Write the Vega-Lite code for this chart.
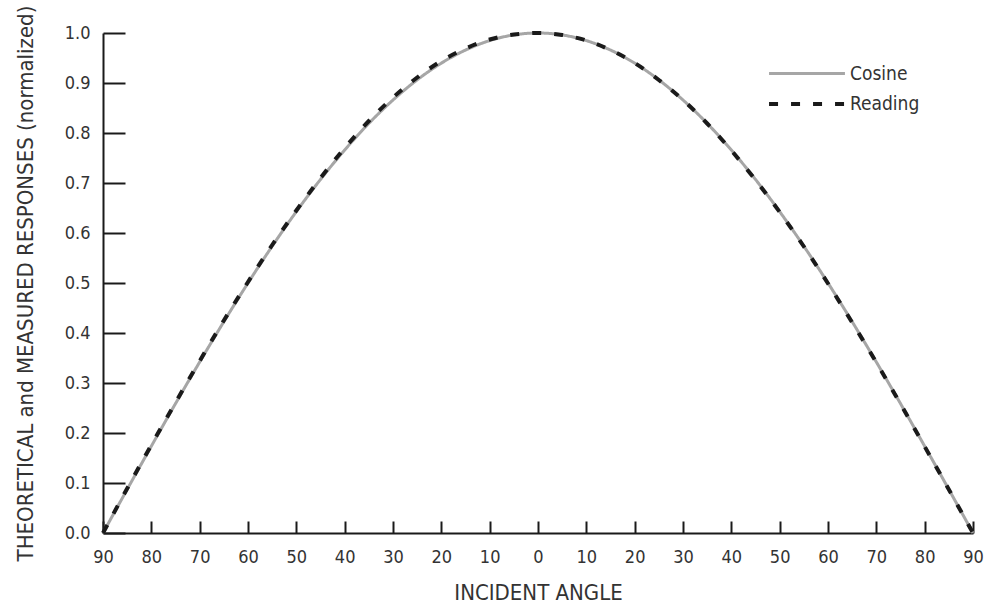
{
  "$schema": "https://vega.github.io/schema/vega-lite/v6.json",
  "width": 870,
  "height": 500,
  "autosize": {"type": "none"},
  "padding": {"left": 103, "top": 33, "right": 12, "bottom": 73},
  "background": "white",
  "config": {
    "view": {"stroke": null},
    "font": "Liberation Sans Narrow, DejaVu Sans Condensed, sans-serif",
    "axis": {
      "grid": false,
      "domainColor": "#1a1a1a",
      "domainWidth": 2,
      "tickColor": "#1a1a1a",
      "tickWidth": 2,
      "labelColor": "#333333",
      "labelFontSize": 18,
      "labelFont": "Liberation Sans Narrow, DejaVu Sans Condensed, sans-serif",
      "titleFont": "Liberation Sans Narrow, DejaVu Sans Condensed, sans-serif",
      "titleColor": "#333333",
      "titleFontSize": 22,
      "titleFontWeight": "normal"
    }
  },
  "data": {
    "values": [
      {"angle": -90, "value": 0.0, "series": "Cosine"},
      {"angle": -85, "value": 0.0872, "series": "Cosine"},
      {"angle": -80, "value": 0.1736, "series": "Cosine"},
      {"angle": -75, "value": 0.2588, "series": "Cosine"},
      {"angle": -70, "value": 0.342, "series": "Cosine"},
      {"angle": -65, "value": 0.4226, "series": "Cosine"},
      {"angle": -60, "value": 0.5, "series": "Cosine"},
      {"angle": -55, "value": 0.5736, "series": "Cosine"},
      {"angle": -50, "value": 0.6428, "series": "Cosine"},
      {"angle": -45, "value": 0.7071, "series": "Cosine"},
      {"angle": -40, "value": 0.766, "series": "Cosine"},
      {"angle": -35, "value": 0.8192, "series": "Cosine"},
      {"angle": -30, "value": 0.866, "series": "Cosine"},
      {"angle": -25, "value": 0.9063, "series": "Cosine"},
      {"angle": -20, "value": 0.9397, "series": "Cosine"},
      {"angle": -15, "value": 0.9659, "series": "Cosine"},
      {"angle": -10, "value": 0.9848, "series": "Cosine"},
      {"angle": -5, "value": 0.9962, "series": "Cosine"},
      {"angle": 0, "value": 1.0, "series": "Cosine"},
      {"angle": 5, "value": 0.9962, "series": "Cosine"},
      {"angle": 10, "value": 0.9848, "series": "Cosine"},
      {"angle": 15, "value": 0.9659, "series": "Cosine"},
      {"angle": 20, "value": 0.9397, "series": "Cosine"},
      {"angle": 25, "value": 0.9063, "series": "Cosine"},
      {"angle": 30, "value": 0.866, "series": "Cosine"},
      {"angle": 35, "value": 0.8192, "series": "Cosine"},
      {"angle": 40, "value": 0.766, "series": "Cosine"},
      {"angle": 45, "value": 0.7071, "series": "Cosine"},
      {"angle": 50, "value": 0.6428, "series": "Cosine"},
      {"angle": 55, "value": 0.5736, "series": "Cosine"},
      {"angle": 60, "value": 0.5, "series": "Cosine"},
      {"angle": 65, "value": 0.4226, "series": "Cosine"},
      {"angle": 70, "value": 0.342, "series": "Cosine"},
      {"angle": 75, "value": 0.2588, "series": "Cosine"},
      {"angle": 80, "value": 0.1736, "series": "Cosine"},
      {"angle": 85, "value": 0.0872, "series": "Cosine"},
      {"angle": 90, "value": 0.0, "series": "Cosine"},
      {"angle": -90, "value": 0.0, "series": "Reading"},
      {"angle": -85, "value": 0.089, "series": "Reading"},
      {"angle": -80, "value": 0.176, "series": "Reading"},
      {"angle": -75, "value": 0.261, "series": "Reading"},
      {"angle": -70, "value": 0.344, "series": "Reading"},
      {"angle": -65, "value": 0.425, "series": "Reading"},
      {"angle": -60, "value": 0.502, "series": "Reading"},
      {"angle": -55, "value": 0.576, "series": "Reading"},
      {"angle": -50, "value": 0.645, "series": "Reading"},
      {"angle": -45, "value": 0.71, "series": "Reading"},
      {"angle": -40, "value": 0.77, "series": "Reading"},
      {"angle": -35, "value": 0.824, "series": "Reading"},
      {"angle": -30, "value": 0.871, "series": "Reading"},
      {"angle": -25, "value": 0.911, "series": "Reading"},
      {"angle": -20, "value": 0.944, "series": "Reading"},
      {"angle": -15, "value": 0.969, "series": "Reading"},
      {"angle": -10, "value": 0.987, "series": "Reading"},
      {"angle": -5, "value": 0.997, "series": "Reading"},
      {"angle": 0, "value": 1.0, "series": "Reading"},
      {"angle": 5, "value": 0.996, "series": "Reading"},
      {"angle": 10, "value": 0.985, "series": "Reading"},
      {"angle": 15, "value": 0.966, "series": "Reading"},
      {"angle": 20, "value": 0.94, "series": "Reading"},
      {"angle": 25, "value": 0.906, "series": "Reading"},
      {"angle": 30, "value": 0.866, "series": "Reading"},
      {"angle": 35, "value": 0.819, "series": "Reading"},
      {"angle": 40, "value": 0.765, "series": "Reading"},
      {"angle": 45, "value": 0.706, "series": "Reading"},
      {"angle": 50, "value": 0.642, "series": "Reading"},
      {"angle": 55, "value": 0.573, "series": "Reading"},
      {"angle": 60, "value": 0.499, "series": "Reading"},
      {"angle": 65, "value": 0.421, "series": "Reading"},
      {"angle": 70, "value": 0.341, "series": "Reading"},
      {"angle": 75, "value": 0.258, "series": "Reading"},
      {"angle": 80, "value": 0.173, "series": "Reading"},
      {"angle": 85, "value": 0.087, "series": "Reading"},
      {"angle": 90, "value": 0.0, "series": "Reading"}
    ]
  },
  "mark": {"type": "line", "interpolate": "monotone", "strokeCap": "butt"},
  "encoding": {
    "x": {
      "field": "angle",
      "type": "quantitative",
      "scale": {"domain": [-90, 90], "nice": false},
      "axis": {
        "title": "INCIDENT ANGLE",
        "values": [-90, -80, -70, -60, -50, -40, -30, -20, -10, 0, 10, 20, 30, 40, 50, 60, 70, 80, 90],
        "labelExpr": "abs(datum.value)",
        "tickSize": -12,
        "labelPadding": 27,
        "titlePadding": 16,
        "labelFlush": false
      }
    },
    "y": {
      "field": "value",
      "type": "quantitative",
      "scale": {"domain": [0, 1], "nice": false},
      "axis": {
        "title": "THEORETICAL and MEASURED RESPONSES (normalized)",
        "values": [0, 0.1, 0.2, 0.3, 0.4, 0.5, 0.6, 0.7, 0.8, 0.9, 1.0],
        "format": ".1f",
        "tickSize": -22,
        "labelPadding": 35,
        "titlePadding": 27,
        "labelFlush": false
      }
    },
    "color": {
      "field": "series",
      "type": "nominal",
      "scale": {"domain": ["Cosine", "Reading"], "range": ["#a6a6a6", "#1a1a1a"]},
      "legend": {
        "title": null,
        "orient": "none",
        "legendX": 687,
        "legendY": 24,
        "symbolType": "M-2.53,0H2.53",
        "symbolSize": 900,
        "symbolStrokeWidth": 4,
        "labelFontSize": 19,
        "labelColor": "#333333",
        "labelFont": "Liberation Sans Narrow, DejaVu Sans Condensed, sans-serif",
        "labelOffset": 26,
        "padding": 0,
        "rowPadding": 3,
        "encode": {
          "symbols": {
            "update": {
              "strokeDash": {"signal": "datum.value === 'Reading' ? [10, 17] : [1, 0]"}
            }
          }
        }
      }
    },
    "strokeDash": {
      "field": "series",
      "type": "nominal",
      "scale": {"domain": ["Cosine", "Reading"], "range": [[1, 0], [9, 13]]},
      "legend": null
    },
    "strokeWidth": {
      "field": "series",
      "type": "nominal",
      "scale": {"domain": ["Cosine", "Reading"], "range": [3, 4]},
      "legend": null
    }
  }
}
